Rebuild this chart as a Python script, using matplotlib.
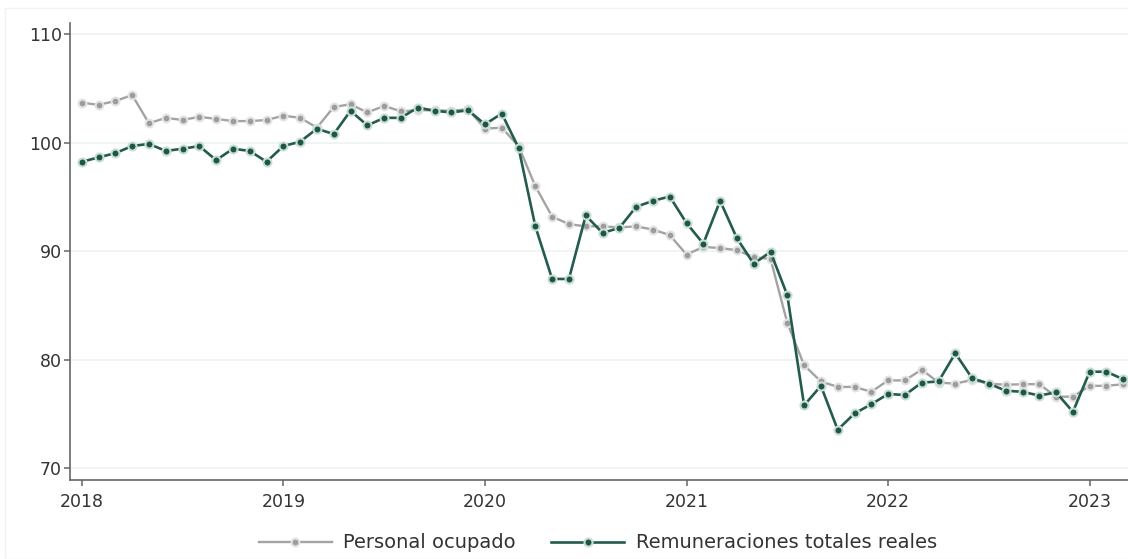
"""Personal ocupado vs remuneraciones totales reales, monthly index 2018-2023."""

import matplotlib.pyplot as plt
import numpy as np
from matplotlib.patches import Rectangle

plt.rcParams.update({"font.family": ["DejaVu Sans"], "figure.dpi": 100})

# monthly observations, Jan 2018 .. Mar 2023
start_year = 2018
personal_ocupado = [
    103.7, 103.5, 103.85, 104.4, 101.8, 102.3, 102.1, 102.4, 102.2, 102.0, 102.0, 102.1,
    102.5, 102.3, 101.4, 103.3, 103.55, 102.8, 103.4, 102.9, 103.0, 103.0, 102.95, 103.1,
    101.3, 101.4, 99.7, 96.0, 93.2, 92.5, 92.3, 92.3, 92.2, 92.3, 92.0, 91.5,
    89.7, 90.4, 90.3, 90.1, 89.45, 89.3, 83.4, 79.5, 78.0, 77.5, 77.5, 77.05,
    78.1, 78.1, 79.1, 77.9, 77.8, 78.15, 77.8, 77.7, 77.75, 77.75, 76.6, 76.6,
    77.6, 77.6, 77.75,
]
remuneraciones = [
    98.25, 98.65, 99.05, 99.7, 99.9, 99.25, 99.45, 99.7, 98.4, 99.45, 99.25, 98.25,
    99.7, 100.1, 101.3, 100.8, 102.95, 101.6, 102.3, 102.3, 103.25, 102.95, 102.8, 103.0,
    101.7, 102.7, 99.55, 92.3, 87.45, 87.45, 93.3, 91.7, 92.15, 94.1, 94.65, 95.05,
    92.6, 90.7, 94.65, 91.2, 88.85, 89.95, 85.95, 75.8, 77.6, 73.55, 75.05, 75.9,
    76.85, 76.75, 77.9, 78.0, 80.6, 78.3, 77.8, 77.15, 77.05, 76.7, 77.0, 75.2,
    78.9, 78.9, 78.2,
]
year_ticks = [2018, 2019, 2020, 2021, 2022, 2023]
y_ticks = [70, 80, 90, 100, 110]

GRAY = "#a3a3a3"
GREEN = "#235b4e"


def main() -> None:
    fig = plt.figure(figsize=(11.28, 5.59))
    ax = fig.add_axes([70 / 1128, 1 - 480 / 559, 1 - 70 / 1128, (480 - 22.7) / 559])

    t = start_year + np.arange(len(personal_ocupado)) / 12
    ax.plot(t, personal_ocupado, color=GRAY, lw=1.7, marker="o", ms=5.6,
            mfc="#9c9c9c", mec="#e2e2e2", mew=1.5, label="Personal ocupado", zorder=3)
    ax.plot(t, remuneraciones, color=GREEN, lw=1.9, marker="o", ms=5.8,
            mfc="#1d5646", mec="#c9ddd6", mew=1.5,
            label="Remuneraciones totales reales", zorder=4)

    ax.set_xlim(start_year - 0.7 / 12, start_year + 62.28 / 12)
    ax.set_ylim(68.92, 111.07)
    ax.set_xticks(year_ticks)
    ax.set_xticklabels([str(y) for y in year_ticks])
    ax.set_yticks(y_ticks)
    ax.grid(axis="y", color="#eef4f2", lw=1.3)
    ax.set_axisbelow(True)

    for side in ("top", "right"):
        ax.spines[side].set_visible(False)
    for side in ("left", "bottom"):
        ax.spines[side].set_color("#666666")
        ax.spines[side].set_linewidth(1.2)
    ax.tick_params(axis="both", colors="#666666", length=4.5, width=1.1,
                   labelsize=12.5, labelcolor="#333333")
    ax.tick_params(axis="x", pad=5)
    ax.tick_params(axis="y", pad=1.5)

    fig.legend(loc="center", bbox_to_anchor=(0.53, 1 - 543 / 559), ncol=2,
               frameon=False, fontsize=14, handlelength=3.75,
               handletextpad=0.6, columnspacing=1.8, labelcolor="#333333")

    fig.patches.append(Rectangle((5 / 1128, 0), 1, 1 - 8 / 559, transform=fig.transFigure,
                                 fill=False, ec="#f2f2f2", lw=1.0, zorder=0))
    fig.savefig("out.png")


if __name__ == "__main__":
    main()
